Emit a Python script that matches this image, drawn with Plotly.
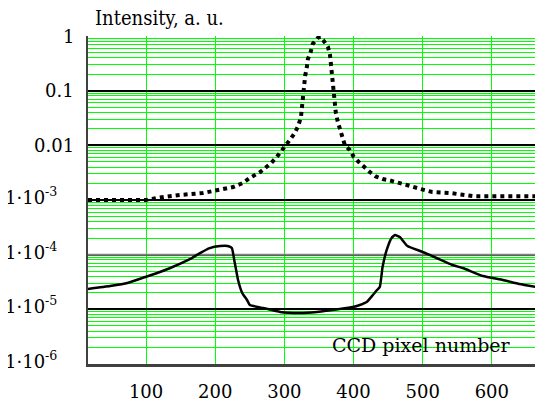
import plotly.graph_objects as go

# ---- data ----
solid_x = [16, 48, 73, 99, 116, 135, 164, 178, 192, 207, 218, 224, 228, 233, 239, 246, 250,
           269, 294, 322, 347, 380, 399, 409, 419, 428, 434, 438, 442, 448, 455, 460, 467,
           478, 500, 520, 543, 558, 587, 616, 640, 673]
solid_y = [2.36e-5, 2.67e-5, 3.03e-5, 3.91e-5, 4.62e-5, 5.70e-5, 8.34e-5, 1.07e-4, 1.32e-4,
           1.44e-4, 1.44e-4, 1.32e-4, 7.35e-5, 3.44e-5, 1.99e-5, 1.48e-5, 1.20e-5,
           1.06e-5, 8.95e-6, 8.57e-6, 8.95e-6, 1.01e-5, 1.10e-5, 1.20e-5, 1.36e-5, 1.83e-5,
           2.26e-5, 2.56e-5, 5.96e-5, 1.22e-4, 2.02e-4, 2.29e-4, 2.10e-4,
           1.44e-4, 1.12e-4, 8.69e-5, 6.47e-5, 5.70e-5, 4.07e-5, 3.44e-5, 2.91e-5, 2.46e-5]

dotted_x = [16, 100, 116, 150, 182, 203, 226, 240, 250, 265, 281, 289, 296, 302, 309, 315,
            320, 324, 325, 325.5, 326.5, 328, 330, 332.5, 334, 338, 341, 348, 352, 356,
            363, 366, 367, 369.5, 370.5, 371.2, 372, 373, 374.4, 377.3, 380, 384.5, 387.4,
            394.6, 400.4, 407.6, 414.8, 423.5, 432, 442, 450, 463, 477, 496, 514, 540,
            575, 600, 673]
dotted_y = [1.0e-3, 1.0e-3, 1.09e-3, 1.24e-3, 1.34e-3, 1.52e-3, 1.73e-3, 2.05e-3, 2.53e-3,
            3.25e-3, 4.75e-3, 6.12e-3, 7.87e-3, 9.72e-3, 1.31e-2, 1.68e-2,
            2.26e-2, 3.30e-2, 4.43e-2, 6.21e-2, 9.06e-2, 0.132, 0.185, 0.271, 0.379, 0.509,
            0.715, 0.918, 0.97, 0.845,
            0.630, 0.449, 0.321, 0.220, 0.157, 0.112, 0.0766, 0.0547, 0.0391, 0.0267, 0.0199,
            0.0142, 0.0101,
            8.22e-3, 6.12e-3, 4.95e-3, 4.02e-3, 3.25e-3, 2.70e-3, 2.42e-3, 2.32e-3, 2.13e-3,
            1.88e-3, 1.60e-3, 1.40e-3, 1.34e-3, 1.17e-3, 1.17e-3, 1.17e-3]

x_range = [16, 674]
x_ticks = [100, 200, 300, 400, 500, 600]
y_plain_labels = {0: "1", -1: "0.1", -2: "0.01"}
y_exp_labels = {-3: "1·10<sup>-3</sup>", -4: "1·10<sup>-4</sup>",
                -5: "1·10<sup>-5</sup>", -6: "1·10<sup>-6</sup>"}
gray_decade = 1e-4

FONT = "DejaVu Serif"
FONT_C = "DejaVu Serif Condensed, DejaVu Serif"
GREEN = "#00ff00"

fig = go.Figure()

fig.add_trace(go.Scatter(x=x_range, y=[gray_decade, gray_decade], mode="lines",
                         line=dict(color="#808080", width=2), hoverinfo="skip",
                         showlegend=False))
fig.add_trace(go.Scatter(x=dotted_x, y=dotted_y, mode="lines",
                         line=dict(color="black", width=4, dash="4px,4px"),
                         showlegend=False))
fig.add_trace(go.Scatter(x=solid_x, y=solid_y, mode="lines",
                         line=dict(color="black", width=2.5, shape="spline", smoothing=0.4),
                         showlegend=False))

# the page body adds an 8px offset: figure is 535x399 drawn from (8, 8)
fig.update_layout(
    width=535, height=399,
    margin=dict(l=80, r=0, t=28, b=43, autoexpand=False),
    paper_bgcolor="white", plot_bgcolor="white",
    font=dict(family=FONT, size=18, color="black"),
    xaxis=dict(range=x_range, tickvals=x_ticks, ticks="", showgrid=True,
               gridcolor=GREEN, gridwidth=1, zeroline=False, automargin=False,
               showline=True, linecolor="#404040", linewidth=2.5,
               tickfont=dict(family=FONT, size=18), ticklabelstandoff=10),
    yaxis=dict(type="log", range=[-6, 0], dtick=1, showticklabels=False,
               showgrid=True, gridcolor="black", gridwidth=1.5, zeroline=False,
               automargin=False,
               showline=True, linecolor="#404040", linewidth=1.5,
               minor=dict(dtick="D1", showgrid=True, gridcolor=GREEN, gridwidth=1)),
)

ann = []
for d, t in y_plain_labels.items():
    ann.append(dict(x=-0.026, xref="paper", y=d, yref="y", text=t, showarrow=False,
                    xanchor="right", yanchor="middle", font=dict(family=FONT, size=18)))
for d, t in y_exp_labels.items():
    ann.append(dict(x=-0.063, xref="paper", y=d, yref="y", text=t, showarrow=False,
                    xanchor="right", yanchor="middle", yshift=4,
                    font=dict(family=FONT, size=18)))
ann.append(dict(x=0.011, xref="paper", y=1.054, yref="paper", text="Intensity, a. u.",
                showarrow=False, xanchor="left", yanchor="middle",
                font=dict(family=FONT_C, size=20)))
ann.append(dict(x=0.934, xref="paper", y=0.058, yref="paper", text="CCD pixel number",
                showarrow=False, xanchor="right", yanchor="middle",
                font=dict(family=FONT, size=19)))
fig.update_layout(annotations=ann)

fig.write_html("out.html")
